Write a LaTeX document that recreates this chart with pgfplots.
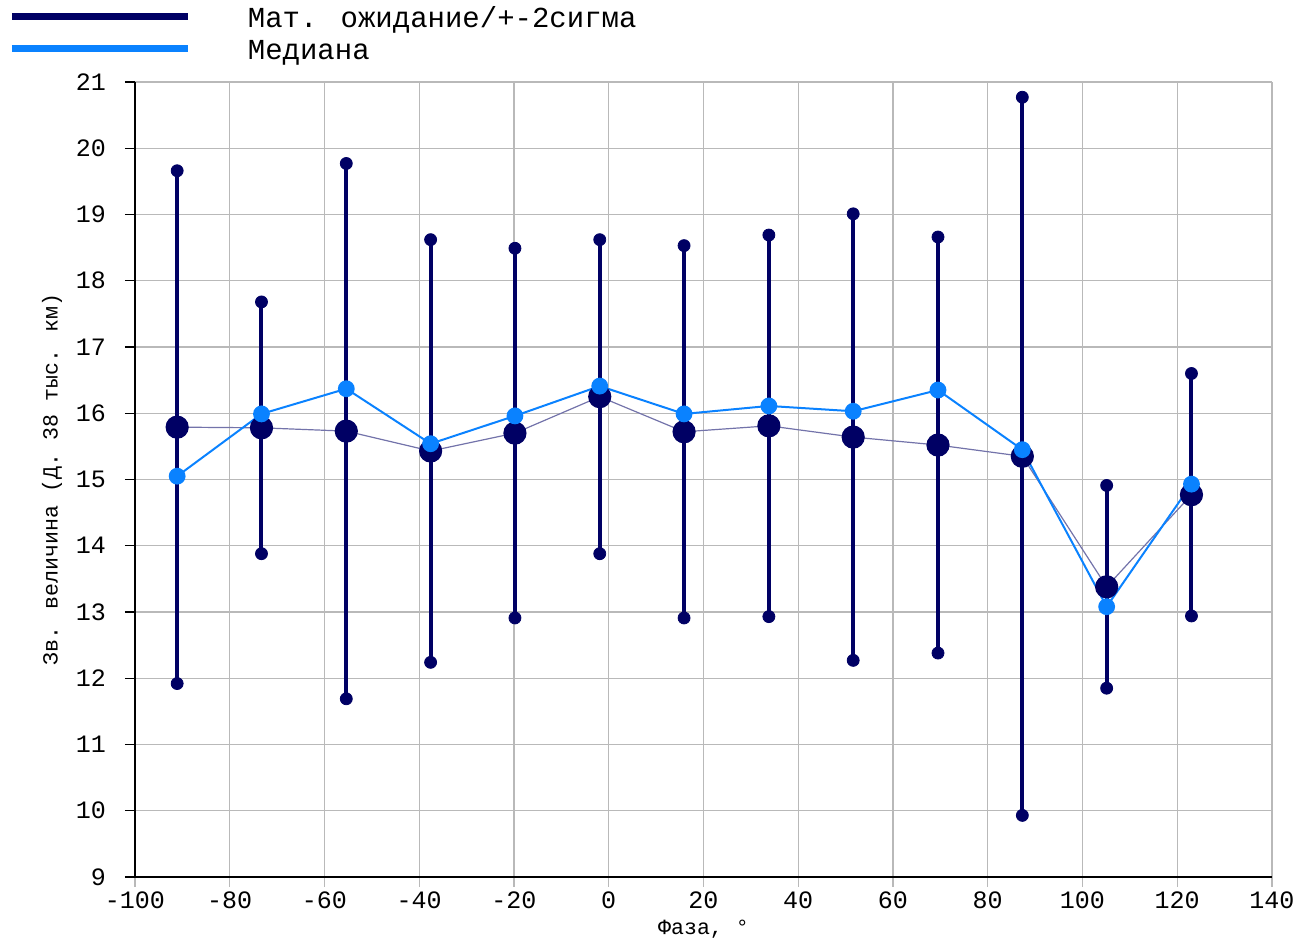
\documentclass[border=0pt]{standalone}
\usepackage{fontspec}
\setmainfont{Liberation Mono}
\usepackage{pgfplots}
\usepackage{pgfplotstable}
\pgfplotsset{compat=1.18}

\definecolor{navy}{RGB}{0,0,100}
\definecolor{medblue}{RGB}{10,130,255}
\definecolor{gridgray}{RGB}{185,185,185}

% phase, mean magnitude, 2 sigma
\pgfplotstableread{
x      mean   err
-91.1  15.79  3.87
-73.3  15.78  1.90
-55.4  15.73  4.04
-37.6  15.43  3.19
-19.8  15.70  2.79
-1.9   16.25  2.37
15.9   15.72  2.81
33.8   15.81  2.88
51.6   15.64  3.37
69.5   15.52  3.14
87.3   15.35  5.42
105.1  13.38  1.53
123.0  14.77  1.83
}\stats

% phase, median magnitude
\pgfplotstableread{
x      med
-91.1  15.05
-73.3  15.99
-55.4  16.37
-37.6  15.54
-19.8  15.96
-1.9   16.41
15.9   15.99
33.8   16.11
51.6   16.03
69.5   16.35
87.3   15.45
105.1  13.08
123.0  14.93
}\median

\begin{document}
\begin{tikzpicture}
\useasboundingbox (-67.5pt,-33pt) rectangle (584pt,438.5pt);
\begin{axis}[
  at={(0,0)}, anchor=south west,
  scale only axis, width=568.5pt, height=397.5pt,
  xmin=-100, xmax=140, ymin=9, ymax=21,
  xtick={-100,-80,...,140}, ytick={9,10,...,21},
  axis lines=left, axis line style={-, line width=0.9pt, black},
  grid=major, major grid style={gridgray, line width=0.6pt},
  tick align=outside, major tick length=5pt,
  xtick style={gridgray, line width=0.6pt},
  ytick style={black, line width=0.6pt},
  /pgf/number format/assume math mode=true,
  ticklabel style={font=\fontsize{12.5}{14}\selectfont},
  yticklabel style={xshift=-6pt},
  xticklabel style={inner sep=2pt},
  xlabel={Фаза, °},
  ylabel={Зв. величина (Д. 38 тыс. км)},
  label style={font=\fontsize{10.8}{12}\selectfont},
  xlabel style={at={(axis description cs:0.5,0)}, anchor=center, yshift=-26pt},
  ylabel style={at={([xshift=-41.5pt]axis description cs:0,0.5)}, anchor=center},
  legend style={at={(axis description cs:0,1)}, anchor=north west,
    xshift=-66.5pt, yshift=40pt, draw=none, fill=none,
    font=\fontsize{14.5}{16}\selectfont,
    nodes={inner sep=0pt, text height=10.5pt, text depth=3pt},
    row sep=2.5pt},
  legend cell align=left,
  legend image code/.code={
    \draw[#1] (0pt,1.5pt) -- (88pt,1.5pt);
    \path[draw=none] (0pt,0pt) (118pt,0pt);
  },
]
\addlegendimage{navy, line width=3.5pt}
\addlegendentry{Мат. ожидание/+-2сигма}
\addlegendimage{medblue, line width=3.5pt}
\addlegendentry{Медиана}

% +-2 sigma bars
\addplot[forget plot, navy, only marks, mark=none,
  error bars/.cd, y dir=both, y explicit,
  error bar style={line width=2pt, navy},
  error mark=*, error mark options={mark size=3pt, draw=navy, fill=navy}]
  table[x=x, y=mean, y error=err] {\stats};

% mean
\addplot[forget plot, navy!55!white, line width=0.6pt,
  mark=*, mark size=5.5pt, mark options={draw=navy, fill=navy}]
  table[x=x, y=mean] {\stats};

% median
\addplot[forget plot, medblue, line width=1pt,
  mark=*, mark size=3.7pt, mark options={draw=medblue, fill=medblue}]
  table[x=x, y=med] {\median};
\end{axis}
\end{tikzpicture}
\end{document}
